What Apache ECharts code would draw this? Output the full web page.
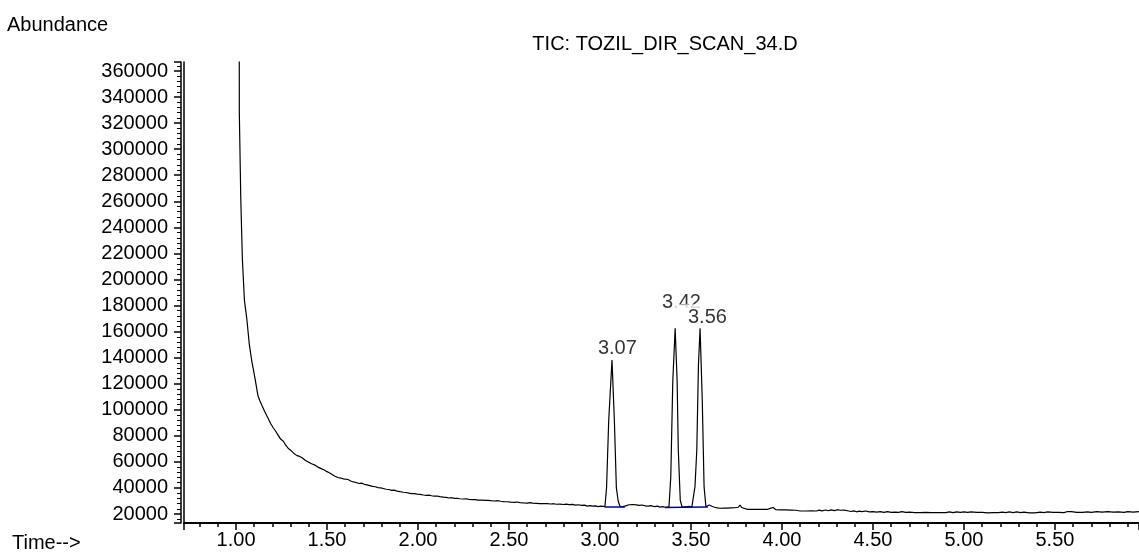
<!DOCTYPE html>
<html>
<head>
<meta charset="utf-8">
<title>TIC: TOZIL_DIR_SCAN_34.D</title>
<script src="https://cdn.jsdelivr.net/npm/echarts@6.0.0/dist/echarts.min.js"></script>
<style>
html, body { margin: 0; padding: 0; background: #fff; }
#tic { width: 1139px; height: 555px; }
</style>
</head>
<body>
<div id="tic"></div>
<script>
// TIC trace, [time (min), abundance]
var ticTrace = [
    [1.014, 900000], [1.018, 328000], [1.026, 262000], [1.035, 215000], [1.046, 184000],
    [1.059, 170000], [1.073, 150000], [1.087, 137000], [1.103, 125000], [1.120, 111000],
    [1.132, 106500], [1.143, 103000], [1.158, 98500], [1.176, 93500], [1.190, 89500],
    [1.205, 86000], [1.218, 83500], [1.231, 80500], [1.245, 77500], [1.260, 75800],
    [1.273, 72800], [1.286, 70500], [1.300, 69000], [1.318, 66500], [1.335, 64800],
    [1.350, 64200], [1.363, 63200], [1.380, 61200], [1.398, 59800], [1.415, 58600],
    [1.434, 57500], [1.450, 56000], [1.468, 54800], [1.485, 53800], [1.500, 52500],
    [1.515, 51500], [1.530, 50200], [1.544, 49000], [1.560, 48000], [1.575, 47600],
    [1.590, 47000], [1.600, 46200], [1.615, 46500], [1.630, 45300], [1.645, 44600],
    [1.660, 44200], [1.675, 43400], [1.690, 43700], [1.705, 42800], [1.720, 42300],
    [1.735, 41800], [1.750, 41200], [1.765, 40900], [1.780, 40300], [1.795, 40100],
    [1.810, 39600], [1.825, 39000], [1.840, 38800], [1.855, 38100], [1.870, 38300],
    [1.885, 37600], [1.900, 37200], [1.920, 36700], [1.935, 36500], [1.950, 36000],
    [1.965, 35700], [1.980, 35600], [1.995, 35200], [2.010, 35100], [2.030, 34600],
    [2.045, 34300], [2.060, 34500], [2.075, 34000], [2.090, 33700], [2.105, 33800],
    [2.120, 33300], [2.140, 32900], [2.155, 32700], [2.170, 32300], [2.185, 32500],
    [2.200, 32000], [2.215, 32100], [2.230, 31700], [2.250, 31500], [2.265, 31700],
    [2.280, 31200], [2.300, 31000], [2.315, 31100], [2.330, 30700], [2.350, 30600],
    [2.370, 30400], [2.385, 30500], [2.400, 30200], [2.420, 30000], [2.440, 30200],
    [2.455, 29800], [2.470, 29500], [2.490, 29400], [2.510, 29100], [2.530, 28900],
    [2.545, 29200], [2.560, 28700], [2.580, 28500], [2.600, 28400], [2.615, 28800],
    [2.630, 28300], [2.650, 28200], [2.670, 28000], [2.690, 27900], [2.710, 27900],
    [2.730, 27700], [2.745, 27900], [2.760, 27500], [2.780, 27600], [2.800, 27300],
    [2.815, 27600], [2.830, 27200], [2.850, 27400], [2.865, 26800], [2.880, 27100],
    [2.900, 26600], [2.915, 26800], [2.930, 26100], [2.945, 26400], [2.960, 26000],
    [2.975, 26300], [2.990, 25700], [3.005, 26100], [3.015, 25800], [3.027, 25600],
    // peak 3.07
    [3.036, 40000], [3.048, 92000], [3.066, 138200], [3.070, 138200], [3.079, 92000],
    [3.090, 40000], [3.100, 30000], [3.110, 25800],
    [3.125, 25700], [3.140, 26200], [3.160, 27100], [3.180, 27300], [3.200, 27000],
    [3.215, 26600], [3.230, 26900], [3.250, 26300], [3.265, 26000], [3.280, 26400],
    [3.300, 25600], [3.315, 26000], [3.330, 25300], [3.345, 25700], [3.357, 25200],
    // peak 3.42
    [3.379, 25500], [3.389, 48600], [3.400, 121500], [3.413, 162500], [3.418, 162500],
    [3.424, 121500], [3.430, 70400], [3.441, 30700], [3.451, 25400], [3.470, 25500],
    [3.490, 25900], [3.505, 25500],
    // peak 3.56
    [3.514, 25800], [3.522, 41000], [3.532, 69100], [3.541, 134400], [3.550, 162500],
    [3.554, 162500], [3.562, 107500], [3.572, 41000], [3.582, 25600],
    [3.600, 26900], [3.615, 26000], [3.630, 25200], [3.645, 24700], [3.660, 24400],
    [3.680, 24600], [3.700, 24500], [3.720, 24700], [3.740, 24800], [3.760, 25200],
    [3.770, 26900], [3.778, 25000], [3.786, 23600], [3.810, 23600], [3.840, 23600],
    [3.870, 23600], [3.900, 23600], [3.918, 23500], [3.935, 24300], [3.951, 25000],
    [3.965, 23400], [3.990, 23100], [4.020, 23100], [4.050, 23000], [4.075, 22900],
    [4.100, 22300], [4.130, 22300], [4.160, 22400], [4.190, 22300], [4.205, 23000],
    [4.220, 22400], [4.240, 23100], [4.255, 22500], [4.270, 23200], [4.290, 22600],
    [4.305, 23300], [4.320, 22900], [4.340, 23000], [4.360, 22500], [4.380, 21900],
    [4.395, 22400], [4.410, 21700], [4.425, 22200], [4.440, 21800], [4.460, 22300],
    [4.480, 21700], [4.500, 21900], [4.520, 21500], [4.540, 21800], [4.560, 21300],
    [4.580, 21800], [4.600, 21300], [4.620, 21400], [4.640, 21300], [4.660, 21800],
    [4.680, 21300], [4.700, 21400], [4.730, 21100], [4.760, 21100], [4.790, 21200],
    [4.820, 21000], [4.850, 21100], [4.880, 21000], [4.900, 21000], [4.920, 21600],
    [4.940, 21000], [4.960, 21700], [4.980, 21300], [5.000, 21700], [5.020, 21300],
    [5.040, 21600], [5.070, 21200], [5.100, 21300], [5.130, 20800], [5.160, 21000],
    [5.190, 21000], [5.210, 21500], [5.230, 21000], [5.250, 21700], [5.270, 21100],
    [5.290, 21600], [5.310, 21000], [5.330, 21400], [5.360, 20800], [5.390, 20900],
    [5.420, 21400], [5.440, 21100], [5.460, 21600], [5.490, 21200], [5.520, 21300],
    [5.550, 21100], [5.570, 21900], [5.590, 21800], [5.620, 21300], [5.650, 21300],
    [5.680, 21700], [5.700, 21300], [5.730, 21800], [5.760, 21500], [5.790, 21900],
    [5.820, 21400], [5.850, 21600], [5.880, 21300], [5.900, 21800], [5.930, 21400],
    [5.962, 21800]
];

// integration baselines (blue)
var baseline1 = [[3.027, 25400], [3.137, 25400]];
var baseline2 = [[3.357, 25000], [3.456, 25200]];
var baseline3 = [[3.456, 25200], [3.593, 25400]];

// peak apex labels
var peakTimes = [3.068, 3.415, 3.552];
var peakAbund = [138200, 162500, 162500];
var peakNames = ['3.07', '3.42', '3.56'];

var xMin = 0.714, xMax = 5.962;
var yMin = 13100, yMax = 366900;

var FONT = '"Liberation Sans", Arial, sans-serif';

var dom = document.getElementById('tic');
var myChart = echarts.init(dom, null, { renderer: 'canvas' });
var option = null;

// label placement for each peak (3.42 pushed up, 3.56 masks it a bit)
var labelCfg = [
    { offset: [5, 0], distance: 2 },
    { offset: [6, 0], distance: 16 },
    { offset: [0, 0], distance: 1, backgroundColor: '#fff', padding: [3, 0, 0, 14] }
];
var peakData = [];
for (var i = 0; i < peakTimes.length; i++) {
    var lc = labelCfg[i];
    peakData.push({
        value: [peakTimes[i], peakAbund[i]],
        label: {
            show: true,
            position: 'top',
            formatter: peakNames[i],
            color: '#000',
            fontSize: 20,
            lineHeight: 20,
            fontFamily: FONT,
            offset: lc.offset,
            distance: lc.distance,
            backgroundColor: lc.backgroundColor || 'transparent',
            padding: lc.padding || 0
        }
    });
}

option = {
    backgroundColor: '#fff',
    animation: false,
    textStyle: { fontFamily: FONT },
    grid: {
        left: 184,
        right: 0,
        top: 62,
        bottom: 32,
        containLabel: false,
        outerBoundsMode: 'none'
    },
    graphic: [
        {
            type: 'text',
            style: { x: 7, y: 25, text: 'Abundance', font: '20px ' + FONT, fill: '#000',
                     verticalAlign: 'middle', textVerticalAlign: 'middle' }
        },
        {
            type: 'text',
            style: { x: 665, y: 44, text: 'TIC: TOZIL_DIR_SCAN_34.D', font: '20px ' + FONT, fill: '#000',
                     align: 'center', textAlign: 'center', verticalAlign: 'middle', textVerticalAlign: 'middle' }
        },
        {
            type: 'text',
            style: { x: 12, y: 543, text: 'Time-->', font: '20px ' + FONT, fill: '#000',
                     verticalAlign: 'middle', textVerticalAlign: 'middle' }
        }
    ],
    xAxis: {
        type: 'value',
        min: xMin,
        max: xMax,
        minInterval: 0.5,
        maxInterval: 0.5,
        axisLine: { show: true, onZero: false, lineStyle: { color: '#000', width: 2 } },
        axisTick: { show: true, length: 7, lineStyle: { color: '#000', width: 1.5 } },
        minorTick: { show: true, splitNumber: 5, length: 4, lineStyle: { color: '#000', width: 1.5 } },
        splitLine: { show: false },
        axisLabel: {
            color: '#000',
            fontSize: 20,
            lineHeight: 20,
            fontFamily: FONT,
            margin: 7,
            showMinLabel: false,
            showMaxLabel: false,
            formatter: function (v) { return v.toFixed(2); }
        }
    },
    yAxis: [
        {
            type: 'value',
            min: yMin,
            max: yMax,
            minInterval: 20000,
            maxInterval: 20000,
            offset: 3,
            axisLine: { show: true, onZero: false, lineStyle: { color: '#000', width: 1.5 } },
            axisTick: { show: true, length: 7, lineStyle: { color: '#000', width: 1.5 } },
            minorTick: { show: true, splitNumber: 5, length: 4, lineStyle: { color: '#000', width: 1 } },
            splitLine: { show: false },
            axisLabel: {
                color: '#000',
                fontSize: 20,
                lineHeight: 20,
                fontFamily: FONT,
                margin: 13,
                showMinLabel: false,
                showMaxLabel: false,
                formatter: function (v) { return String(Math.round(v)); }
            }
        },
        {
            type: 'value',
            min: yMin,
            max: yMax,
            position: 'left',
            offset: 0,
            axisLine: { show: true, onZero: false, lineStyle: { color: '#000', width: 1.5 } },
            axisTick: { show: false },
            splitLine: { show: false },
            axisLabel: { show: false }
        }
    ],
    series: [
        {
            name: 'TIC',
            type: 'line',
            data: ticTrace,
            symbol: 'none',
            clip: true,
            sampling: null,
            lineStyle: { color: '#000', width: 1.2 }
        },
        {
            type: 'line', data: baseline1, symbol: 'none', clip: true,
            lineStyle: { color: '#0000b0', width: 1.5 }
        },
        {
            type: 'line', data: baseline2, symbol: 'none', clip: true,
            lineStyle: { color: '#0000b0', width: 1.5 }
        },
        {
            type: 'line', data: baseline3, symbol: 'none', clip: true,
            lineStyle: { color: '#0000b0', width: 1.5 }
        },
        {
            name: 'peaks',
            type: 'scatter',
            data: peakData,
            symbolSize: 0,
            silent: true,
            z: 5,
            label: {
                color: '#000',
                fontSize: 20,
                lineHeight: 20,
                fontFamily: FONT
            }
        }
    ]
};

if (option && typeof option === "object") {
    myChart.setOption(option, true);
}
</script>
</body>
</html>
